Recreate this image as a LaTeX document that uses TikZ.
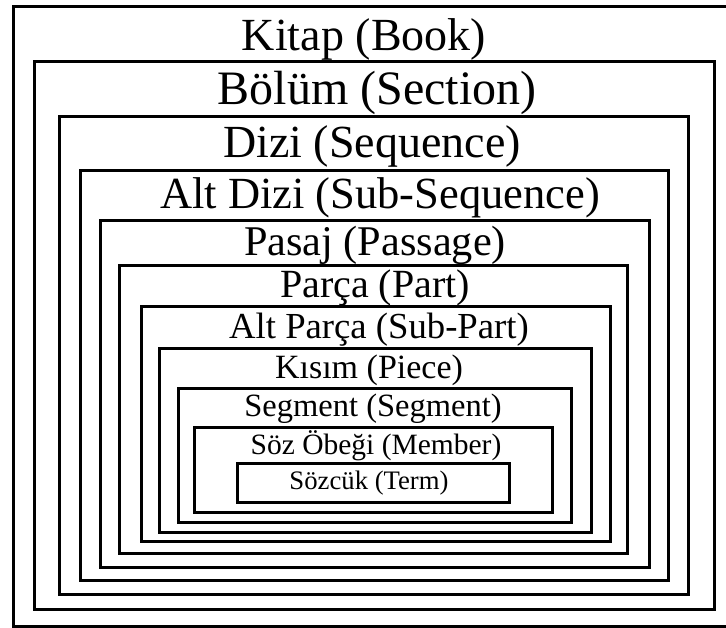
\documentclass[tikz,border=0pt]{standalone}
\usepackage{fontspec}
\setmainfont{Liberation Serif}
\begin{document}
\begin{tikzpicture}[x=1pt,y=-1pt,
  frame/.style={draw=black,line width=3pt},
  lbl/.style={inner sep=0pt,anchor=center,text=black}]
\useasboundingbox (0,0) rectangle (726,628);
\fill[white] (0,0) rectangle (726,628);
% nested frames
\draw[frame] (13,7) rectangle (740,626);
\draw[frame] (34,62) rectangle (714,609);
\draw[frame] (59,117) rectangle (688,594);
\draw[frame] (80,171) rectangle (668,580);
\draw[frame] (100,221) rectangle (649,567);
\draw[frame] (119,266) rectangle (627,553);
\draw[frame] (141,307) rectangle (610,541);
\draw[frame] (159,349) rectangle (591,532);
\draw[frame] (178,389) rectangle (571,522);
\draw[frame] (194,427) rectangle (552,512);
\draw[frame] (237,463) rectangle (509,502);
% labels
\node[lbl] (kitap) at (364,39) {\fontsize{46}{50}\selectfont Kitap (Book)};
\node[lbl] (bolum) at (377,92.5) {\fontsize{48}{52}\selectfont Bölüm (Section)};
\node[lbl] (dizi) at (372,146.5) {\fontsize{46}{50}\selectfont Dizi (Sequence)};
\node[lbl] (altdizi) at (380,198) {\fontsize{44.5}{48}\selectfont Alt Dizi (Sub-Sequence)};
\node[lbl] (pasaj) at (375,245) {\fontsize{42.3}{46}\selectfont Pasaj (Passage)};
\node[lbl] (parca) at (375,288) {\fontsize{40}{44}\selectfont Parça (Part)};
\node[lbl] (altparca) at (379,329.5) {\fontsize{36.7}{40}\selectfont Alt Parça (Sub-Part)};
\node[lbl] (kisim) at (369,370) {\fontsize{34}{38}\selectfont Kısım (Piece)};
\node[lbl] (segment) at (373,409) {\fontsize{32.5}{36}\selectfont Segment (Segment)};
\node[lbl] (soz) at (376,446) {\fontsize{29.5}{33}\selectfont Söz Öbeği (Member)};
\node[lbl] (sozcuk) at (369,483.5) {\fontsize{26.7}{30}\selectfont Sözcük (Term)};
\end{tikzpicture}
\end{document}
